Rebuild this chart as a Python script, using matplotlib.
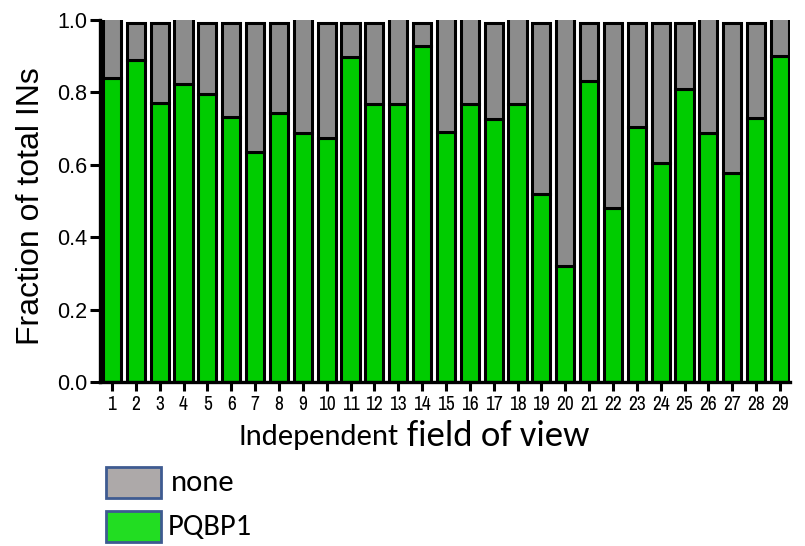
import matplotlib
matplotlib.use("Agg")
import matplotlib.pyplot as plt
from matplotlib.patches import Rectangle
import numpy as np

# Fraction of interneurons per field of view
fields = list(range(1, 30))
pqbp1 = [0.839, 0.889, 0.771, 0.823, 0.795, 0.733, 0.636, 0.742, 0.687, 0.673,
         0.897, 0.768, 0.767, 0.929, 0.691, 0.768, 0.726, 0.767, 0.518, 0.320,
         0.831, 0.482, 0.705, 0.605, 0.810, 0.687, 0.578, 0.728, 0.900]
none = [0.171, 0.104, 0.222, 0.187, 0.198, 0.260, 0.357, 0.251, 0.323, 0.320,
        0.096, 0.225, 0.243, 0.064, 0.319, 0.242, 0.267, 0.243, 0.475, 0.690,
        0.162, 0.511, 0.288, 0.388, 0.183, 0.323, 0.415, 0.265, 0.110]
series_labels = ["none", "PQBP1"]
y_ticks = [0.0, 0.2, 0.4, 0.6, 0.8, 1.0]

W, H = 805, 546
fig = plt.figure(figsize=(W / 100, H / 100), dpi=100)
ax = fig.add_axes([100 / W, 1 - 382 / H, 690 / W, 362 / H])

x = np.array(fields)
green = "#00cc00"
grey = "#8c8c8c"
ax.bar(x, pqbp1, width=0.76, color=green, edgecolor="black", linewidth=2.2, zorder=2)
ax.bar(x, none, bottom=pqbp1, width=0.76, color=grey, edgecolor="black",
       linewidth=2.2, zorder=2)

ax.set_xlim(0.5, 29.42)
ax.set_ylim(0, 1.0)
ax.set_yticks(y_ticks)
ax.set_yticklabels([f"{v:.1f}" for v in y_ticks], fontsize=15.5,
                   fontfamily="Liberation Sans")
ax.set_xticks(x)
ax.set_xticklabels([str(f) for f in fields], fontsize=14,
                   fontfamily="Archivo Narrow")

for side in ("top", "right"):
    ax.spines[side].set_visible(False)
for side in ("left", "bottom"):
    ax.spines[side].set_linewidth(2.4)
ax.tick_params(axis="y", length=7, width=2.2, pad=2)
ax.tick_params(axis="x", length=6.5, width=2.2, pad=3)

# y-axis title
fig.text(31 / W, 1 - 206 / H, "Fraction of total INs", fontsize=23,
         fontfamily="Liberation Sans", rotation=90, ha="center", va="center")

# x-axis title set in two sizes
fig.text(238 / W, 1 - 437 / H, "Independent", fontsize=22, fontfamily="Carlito",
         ha="left", va="center")
fig.text(407 / W, 1 - 436 / H, "field of view", fontsize=26.5, fontfamily="Carlito",
         ha="left", va="center")

# legend boxes below the chart
legend_fill = ["#ada9a9", "#22dd22"]
legend_top = [467, 511]
legend_text_x = [171, 168]
for lab, fc, yt, tx in zip(series_labels, legend_fill, legend_top, legend_text_x):
    fig.patches.append(Rectangle((106 / W, 1 - (yt + 31) / H), 55 / W, 31 / H,
                                 transform=fig.transFigure, facecolor=fc,
                                 edgecolor="#3e5b91", linewidth=2))
    fig.text(tx / W, 1 - (yt + 16) / H, lab, fontsize=22, fontfamily="Carlito",
             ha="left", va="center")

fig.savefig("out.png", dpi=100)
